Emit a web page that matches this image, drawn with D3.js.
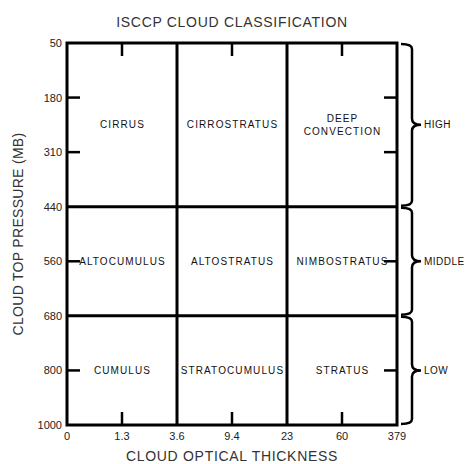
<!DOCTYPE html>
<html>
<head>
<meta charset="utf-8">
<script src="https://cdn.jsdelivr.net/npm/d3@7"></script>
<style>
  body { margin: 0; background: #fff; }
  text { font-family: "Liberation Sans", Arial, sans-serif; }
</style>
</head>
<body>
<div id="chart"></div>
<script>
const thicknessTicks = ['0', '1.3', '3.6', '9.4', '23', '60', '379'];
const pressureTicks = ['50', '180', '310', '440', '560', '680', '800', '1000'];

// boundaries between cloud types
const thicknessBounds = ['3.6', '23'];
const pressureBounds = ['440', '680'];

// cloud types: label lines, optical thickness column centre, pressure row centre
const cloudNames = [
  ['CIRRUS'], ['CIRROSTRATUS'], ['DEEP', 'CONVECTION'],
  ['ALTOCUMULUS'], ['ALTOSTRATUS'], ['NIMBOSTRATUS'],
  ['CUMULUS'], ['STRATOCUMULUS'], ['STRATUS']
];
const cloudThickness = ['1.3', '9.4', '60', '1.3', '9.4', '60', '1.3', '9.4', '60'];
const cloudPressure = ['245', '245', '245', '560', '560', '560', '800', '800', '800'];

const levelNames = ['HIGH', 'MIDDLE', 'LOW'];
const levelTop = ['50', '440', '680'];
const levelBottom = ['440', '680', '1000'];

const width = 469;
const height = 464;
const margin = {top: 43, right: 72, bottom: 39, left: 67};

const svg = d3.select('#chart')
  .append('svg')
  .attr('width', width)
  .attr('height', height);

const x = d3.scalePoint()
  .domain(thicknessTicks)
  .range([margin.left, width - margin.right]);

const y = d3.scalePoint()
  .domain(pressureTicks)
  .range([margin.top, height - margin.bottom]);

// pressure row centres that sit between ticks (245 = middle of 180..310)
const yMid = (p) => p === '245' ? (y('180') + y('310')) / 2 : y(p);

const tickLen = 13;
const minorX = thicknessTicks.filter(t => !thicknessBounds.includes(t) && t !== '0' && t !== '379');
const minorY = pressureTicks.filter(t => !pressureBounds.includes(t) && t !== '50' && t !== '1000');

const x0 = x.range()[0], x1 = x.range()[1];
const y0 = y.range()[0], y1 = y.range()[1];

// inner ticks
const ticks = svg.append('g')
  .attr('stroke', '#000')
  .attr('stroke-width', 2.5);

minorY.forEach(t => {
  ticks.append('line').attr('x1', x0).attr('x2', x0 + tickLen).attr('y1', y(t)).attr('y2', y(t));
  ticks.append('line').attr('x1', x1).attr('x2', x1 - tickLen).attr('y1', y(t)).attr('y2', y(t));
});
minorX.forEach(t => {
  ticks.append('line').attr('x1', x(t)).attr('x2', x(t)).attr('y1', y0).attr('y2', y0 + tickLen);
  ticks.append('line').attr('x1', x(t)).attr('x2', x(t)).attr('y1', y1).attr('y2', y1 - tickLen);
});

// dividing lines
svg.append('g')
  .selectAll('line')
  .data(thicknessBounds)
  .enter()
  .append('line')
  .attr('x1', d => x(d)).attr('x2', d => x(d))
  .attr('y1', y0).attr('y2', y1)
  .attr('stroke', '#000')
  .attr('stroke-width', 3);

svg.append('g')
  .selectAll('line')
  .data(pressureBounds)
  .enter()
  .append('line')
  .attr('x1', x0).attr('x2', x1)
  .attr('y1', d => y(d)).attr('y2', d => y(d))
  .attr('stroke', '#000')
  .attr('stroke-width', 3);

// frame
svg.append('rect')
  .attr('x', x0)
  .attr('y', y0)
  .attr('width', x1 - x0)
  .attr('height', y1 - y0)
  .attr('fill', 'none')
  .attr('stroke', '#000')
  .attr('stroke-width', 3);

// tick labels
svg.append('g')
  .selectAll('text')
  .data(pressureTicks)
  .enter()
  .append('text')
  .attr('x', x0 - 5)
  .attr('y', d => y(d) + 4)
  .attr('text-anchor', 'end')
  .attr('font-size', 11)
  .attr('fill', '#222')
  .text(d => d);

svg.append('g')
  .selectAll('text')
  .data(thicknessTicks)
  .enter()
  .append('text')
  .attr('x', d => x(d))
  .attr('y', y1 + 15)
  .attr('text-anchor', 'middle')
  .attr('font-size', 11)
  .attr('fill', '#222')
  .text(d => d);

// cloud type labels
const cells = svg.append('g')
  .selectAll('text')
  .data(cloudNames)
  .enter()
  .append('text')
  .attr('text-anchor', 'middle')
  .attr('font-size', 10)
  .attr('letter-spacing', 1.1)
  .attr('fill', '#111');

cells.each(function(lines, i) {
  const cx = x(cloudThickness[i]) + 0.5;
  const cy = yMid(cloudPressure[i]) - (lines.length - 1) * 6.5 + 3.5;
  d3.select(this).selectAll('tspan')
    .data(lines)
    .enter()
    .append('tspan')
    .attr('x', cx)
    .attr('y', (d, j) => cy + j * 13)
    .text(d => d);
});

// braces for levels
const braceX = x1 + 4;
const braceMid = x1 + 15;
const braceTip = x1 + 24;
const r = 6;

function bracePath(top, bottom) {
  const m = (top + bottom) / 2;
  return `M${braceX},${top + 1}` +
    `Q${braceMid},${top + 1} ${braceMid},${top + r}` +
    `L${braceMid},${m - r}` +
    `Q${braceMid},${m} ${braceTip},${m}` +
    `Q${braceMid},${m} ${braceMid},${m + r}` +
    `L${braceMid},${bottom - r}` +
    `Q${braceMid},${bottom - 1} ${braceX},${bottom - 1}`;
}

const braces = svg.append('g')
  .selectAll('g')
  .data(levelNames)
  .enter()
  .append('g');

braces.append('path')
  .attr('d', (d, i) => bracePath(y(levelTop[i]), y(levelBottom[i])))
  .attr('fill', 'none')
  .attr('stroke', '#000')
  .attr('stroke-width', 2.5);

braces.append('text')
  .attr('x', braceTip + 3)
  .attr('y', (d, i) => (y(levelTop[i]) + y(levelBottom[i])) / 2 + 3.5)
  .attr('font-size', 10)
  .attr('letter-spacing', 0.5)
  .attr('fill', '#111')
  .text(d => d);

// titles
svg.append('text')
  .attr('x', (x0 + x1) / 2)
  .attr('y', 27)
  .attr('text-anchor', 'middle')
  .attr('font-size', 14)
  .attr('letter-spacing', 0.7)
  .attr('fill', '#333')
  .text('ISCCP CLOUD CLASSIFICATION');

svg.append('text')
  .attr('x', (x0 + x1) / 2)
  .attr('y', 461)
  .attr('text-anchor', 'middle')
  .attr('font-size', 14)
  .attr('letter-spacing', 0.7)
  .attr('fill', '#333')
  .text('CLOUD OPTICAL THICKNESS');

svg.append('text')
  .attr('transform', `translate(23,${(y0 + y1) / 2}) rotate(-90)`)
  .attr('text-anchor', 'middle')
  .attr('font-size', 14)
  .attr('letter-spacing', 0.3)
  .attr('fill', '#333')
  .text('CLOUD TOP PRESSURE (MB)');
</script>
</body>
</html>
